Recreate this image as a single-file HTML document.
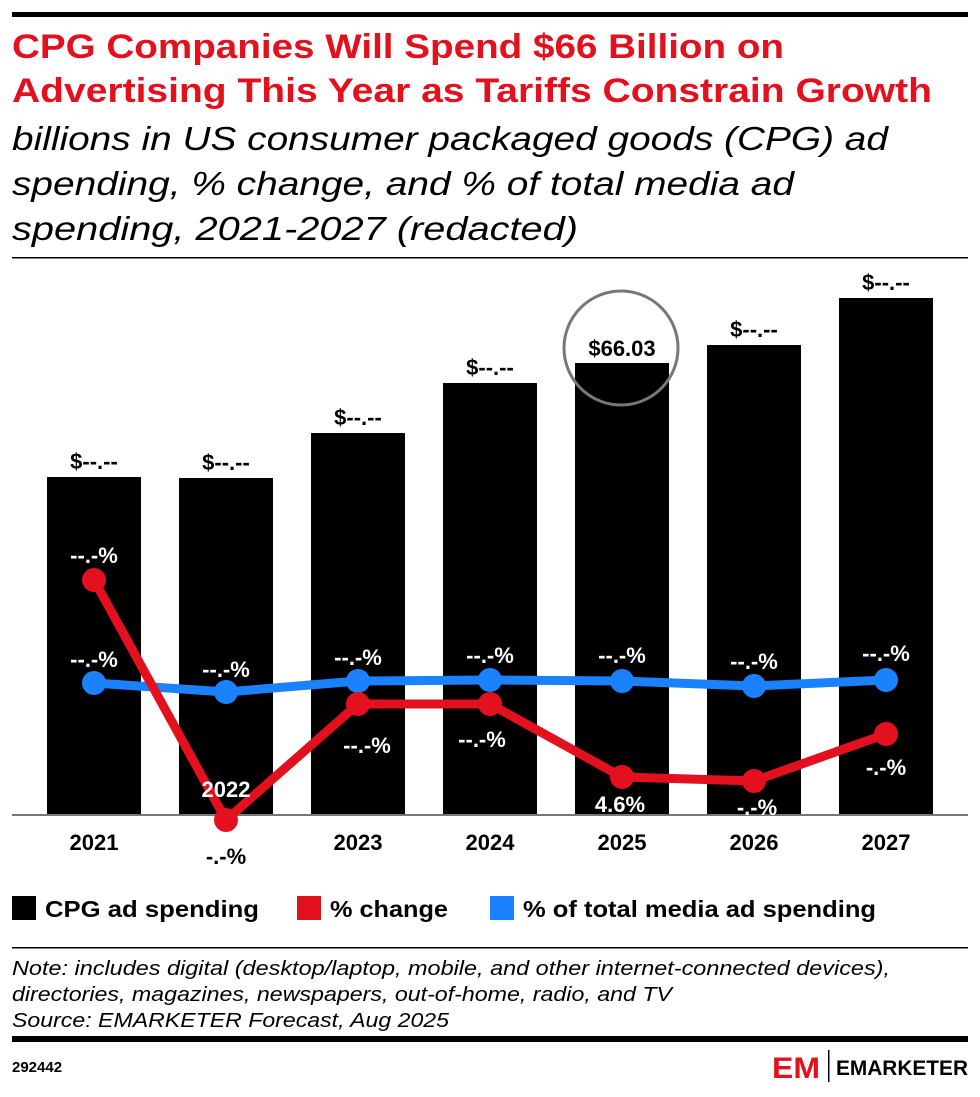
<!DOCTYPE html>
<html><head><meta charset="utf-8"><style>
body{margin:0;background:#fff;width:980px;height:1092px;overflow:hidden;font-family:"Liberation Sans",sans-serif}
</style></head><body>
<svg width="980" height="1092" xmlns="http://www.w3.org/2000/svg" font-family="Liberation Sans, sans-serif">
<rect x="12" y="12" width="956" height="5" fill="#000"/>
<text x="12" y="58" font-size="34" font-weight="bold" fill="#e3101d" textLength="772" lengthAdjust="spacingAndGlyphs">CPG Companies Will Spend $66 Billion on</text>
<text x="12" y="102" font-size="34" font-weight="bold" fill="#e3101d" textLength="920" lengthAdjust="spacingAndGlyphs">Advertising This Year as Tariffs Constrain Growth</text>
<g font-size="33" font-style="italic" fill="#000">
<text x="12" y="150" textLength="876" lengthAdjust="spacingAndGlyphs">billions in US consumer packaged goods (CPG) ad</text>
<text x="12" y="195" textLength="782" lengthAdjust="spacingAndGlyphs">spending, % change, and % of total media ad</text>
<text x="12" y="240" textLength="566" lengthAdjust="spacingAndGlyphs">spending, 2021-2027 (redacted)</text>
</g>
<rect x="12" y="257" width="956" height="1.5" fill="#000"/>
<g fill="#000">
<rect x="47" y="477" width="94" height="338"/>
<rect x="179" y="478" width="94" height="337"/>
<rect x="311" y="433" width="94" height="382"/>
<rect x="443" y="383" width="94" height="432"/>
<rect x="575" y="363" width="94" height="452"/>
<rect x="707" y="345" width="94" height="470"/>
<rect x="839" y="298" width="94" height="517"/>
</g>
<rect x="12" y="814" width="956" height="2" fill="#777"/>
<g font-size="22" font-weight="bold" text-anchor="middle" fill="#000">
<text x="94" y="469">$--.--</text>
<text x="226" y="470">$--.--</text>
<text x="358" y="425">$--.--</text>
<text x="490" y="375">$--.--</text>
<text x="622" y="356">$66.03</text>
<text x="754" y="337">$--.--</text>
<text x="886" y="290">$--.--</text>
</g>
<circle cx="621" cy="348" r="57" fill="none" stroke="#777" stroke-width="3"/>
<polyline points="94,683 226,692 358,681 490,680 622,681 754,686 886,680" fill="none" stroke="#1a82ff" stroke-width="9" stroke-linejoin="round"/>
<g fill="#1a82ff"><circle cx="94" cy="683" r="12"/><circle cx="226" cy="692" r="12"/><circle cx="358" cy="681" r="12"/><circle cx="490" cy="680" r="12"/><circle cx="622" cy="681" r="12"/><circle cx="754" cy="686" r="12"/><circle cx="886" cy="680" r="12"/></g>
<polyline points="94,580 226,820 358,704 490,704 622,777 754,781 886,734" fill="none" stroke="#e3101d" stroke-width="9" stroke-linejoin="round"/>
<g fill="#e3101d"><circle cx="94" cy="580" r="12"/><circle cx="226" cy="820" r="12"/><circle cx="358" cy="704" r="12"/><circle cx="490" cy="704" r="12"/><circle cx="622" cy="777" r="12"/><circle cx="754" cy="781" r="12"/><circle cx="886" cy="734" r="12"/></g>
<g font-size="22" font-weight="bold" text-anchor="middle" fill="#fff">
<text x="94" y="563">--.-%</text>
<text x="367" y="753">--.-%</text>
<text x="482" y="747">--.-%</text>
<text x="620" y="812">4.6%</text>
<text x="757" y="815">-.-%</text>
<text x="886" y="775">-.-%</text>
<text x="94" y="667">--.-%</text>
<text x="226" y="677">--.-%</text>
<text x="358" y="665">--.-%</text>
<text x="490" y="663">--.-%</text>
<text x="622" y="663">--.-%</text>
<text x="754" y="669">--.-%</text>
<text x="886" y="661">--.-%</text>
<text x="226" y="797">2022</text>
</g>
<g font-size="22" font-weight="bold" text-anchor="middle" fill="#000">
<text x="226" y="864">-.-%</text>
<text x="94" y="850">2021</text>
<text x="358" y="850">2023</text>
<text x="490" y="850">2024</text>
<text x="622" y="850">2025</text>
<text x="754" y="850">2026</text>
<text x="886" y="850">2027</text>
</g>
<rect x="12" y="896" width="24" height="24" fill="#000"/>
<rect x="297" y="896" width="24" height="24" fill="#e3101d"/>
<rect x="490" y="896" width="24" height="24" fill="#1a82ff"/>
<g font-size="23" font-weight="bold" fill="#000">
<text x="45" y="917" textLength="214" lengthAdjust="spacingAndGlyphs">CPG ad spending</text>
<text x="330" y="917" textLength="118" lengthAdjust="spacingAndGlyphs">% change</text>
<text x="523" y="917" textLength="353" lengthAdjust="spacingAndGlyphs">% of total media ad spending</text>
</g>
<rect x="12" y="947" width="956" height="1.5" fill="#000"/>
<g font-size="20" font-style="italic" fill="#000">
<text x="12" y="975" textLength="878" lengthAdjust="spacingAndGlyphs">Note: includes digital (desktop/laptop, mobile, and other internet-connected devices),</text>
<text x="12" y="1001" textLength="660" lengthAdjust="spacingAndGlyphs">directories, magazines, newspapers, out-of-home, radio, and TV</text>
<text x="12" y="1027" textLength="437" lengthAdjust="spacingAndGlyphs">Source: EMARKETER Forecast, Aug 2025</text>
</g>
<rect x="12" y="1036" width="956" height="6" fill="#000"/>
<text x="12" y="1072" font-size="15" font-weight="bold">292442</text>
<text x="772" y="1078" font-size="30" font-weight="bold" fill="#e3101d" textLength="48" lengthAdjust="spacingAndGlyphs">EM</text>
<rect x="828" y="1050" width="1.5" height="32" fill="#000"/>
<text x="836" y="1075" font-size="21" font-weight="bold" fill="#000" textLength="132" lengthAdjust="spacingAndGlyphs">EMARKETER</text>
</svg>
</body></html>
